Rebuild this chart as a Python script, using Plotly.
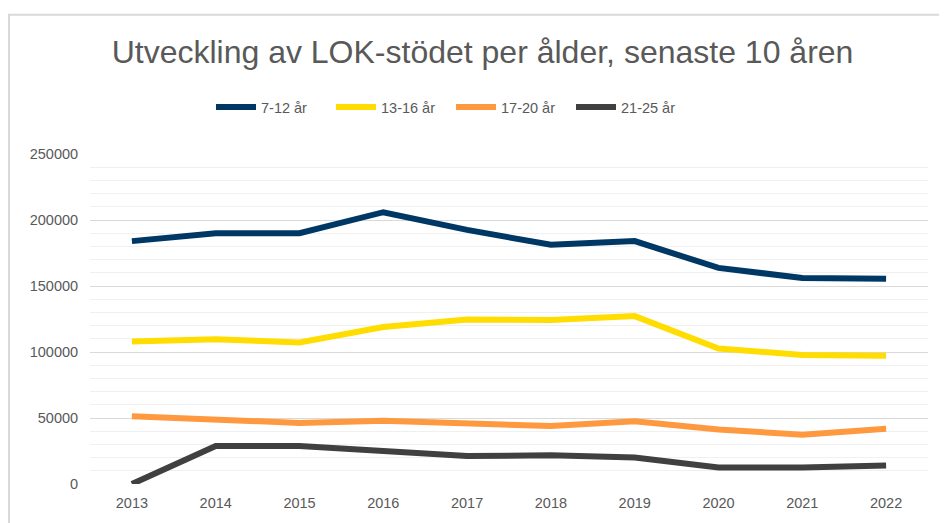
import plotly.graph_objects as go

years = [2013, 2014, 2015, 2016, 2017, 2018, 2019, 2020, 2021, 2022]
s_7_12 = [184000, 190000, 190000, 205900, 192500, 181200, 184000, 163700, 156100, 155400]
s_13_16 = [107900, 109600, 107200, 118900, 124700, 124200, 127200, 102600, 97800, 97100]
s_17_20 = [51400, 49400, 46300, 47900, 45600, 43900, 47600, 41300, 37300, 41800]
s_21_25 = [0, 28800, 28800, 25500, 21200, 21700, 20000, 12500, 12500, 14000]

names = ["7-12 år", "13-16 år", "17-20 år", "21-25 år"]
colors = ["#003865", "#FFDD00", "#FF9940", "#404040"]
series = [s_7_12, s_13_16, s_17_20, s_21_25]

fig = go.Figure()
for n, c, s in zip(names, colors, series):
    fig.add_trace(go.Scatter(x=years, y=s, name=n, mode="lines",
                             line=dict(color=c, width=6)))

# page body has an 8px margin, so figure coords = screen coords - 8
W, H = 939, 515
L, R, T, B = 82, 19, 146, 37
pw, ph = W - L - R, H - T - B

fig.update_layout(
    width=W, height=H,
    margin=dict(l=L, r=R, t=T, b=B),
    paper_bgcolor="white", plot_bgcolor="white",
    font=dict(family="Liberation Sans, Arial, sans-serif", color="#595959", size=14.5),
    title=dict(text="Utveckling av LOK-stödet per ålder, senaste 10 åren",
               xref="container", x=474.5 / W, xanchor="center",
               yref="container", y=1 - 44 / H, yanchor="middle",
               font=dict(size=32, color="#595959")),
    legend=dict(orientation="h", xref="container", x=443 / W, xanchor="center",
                yref="container", y=1 - 99 / H, yanchor="middle",
                font=dict(size=14.5, color="#595959"),
                itemwidth=40, entrywidth=65, entrywidthmode="pixels",
                traceorder="normal"),
    showlegend=True,
)
fig.update_xaxes(range=[2012.5, 2022.5], tickmode="array", tickvals=years,
                 ticktext=[str(y) for y in years], showgrid=False, zeroline=False,
                 showline=False, ticks="outside", ticklen=6, tickcolor="rgba(0,0,0,0)",
                 tickfont=dict(size=14.5, color="#595959"))
fig.update_yaxes(range=[0, 250000], dtick=50000, tickformat="d",
                 gridcolor="#d9d9d9", gridwidth=1, zeroline=False, showline=False,
                 ticks="outside", ticklen=8, tickcolor="rgba(0,0,0,0)",
                 tickfont=dict(size=14.5, color="#595959"),
                 minor=dict(dtick=10000, showgrid=True, gridcolor="#f0f0f0", gridwidth=1))

# outer chart border (top and left edges visible)
fig.add_shape(type="rect", xref="paper", yref="paper",
              x0=(1 - L) / pw, x1=(W + 10 - L) / pw,
              y0=-(B + 10) / ph, y1=1 + (T - 6) / ph,
              line=dict(color="#d9d9d9", width=2), fillcolor="rgba(0,0,0,0)", layer="below")

fig.write_html("out.html")
